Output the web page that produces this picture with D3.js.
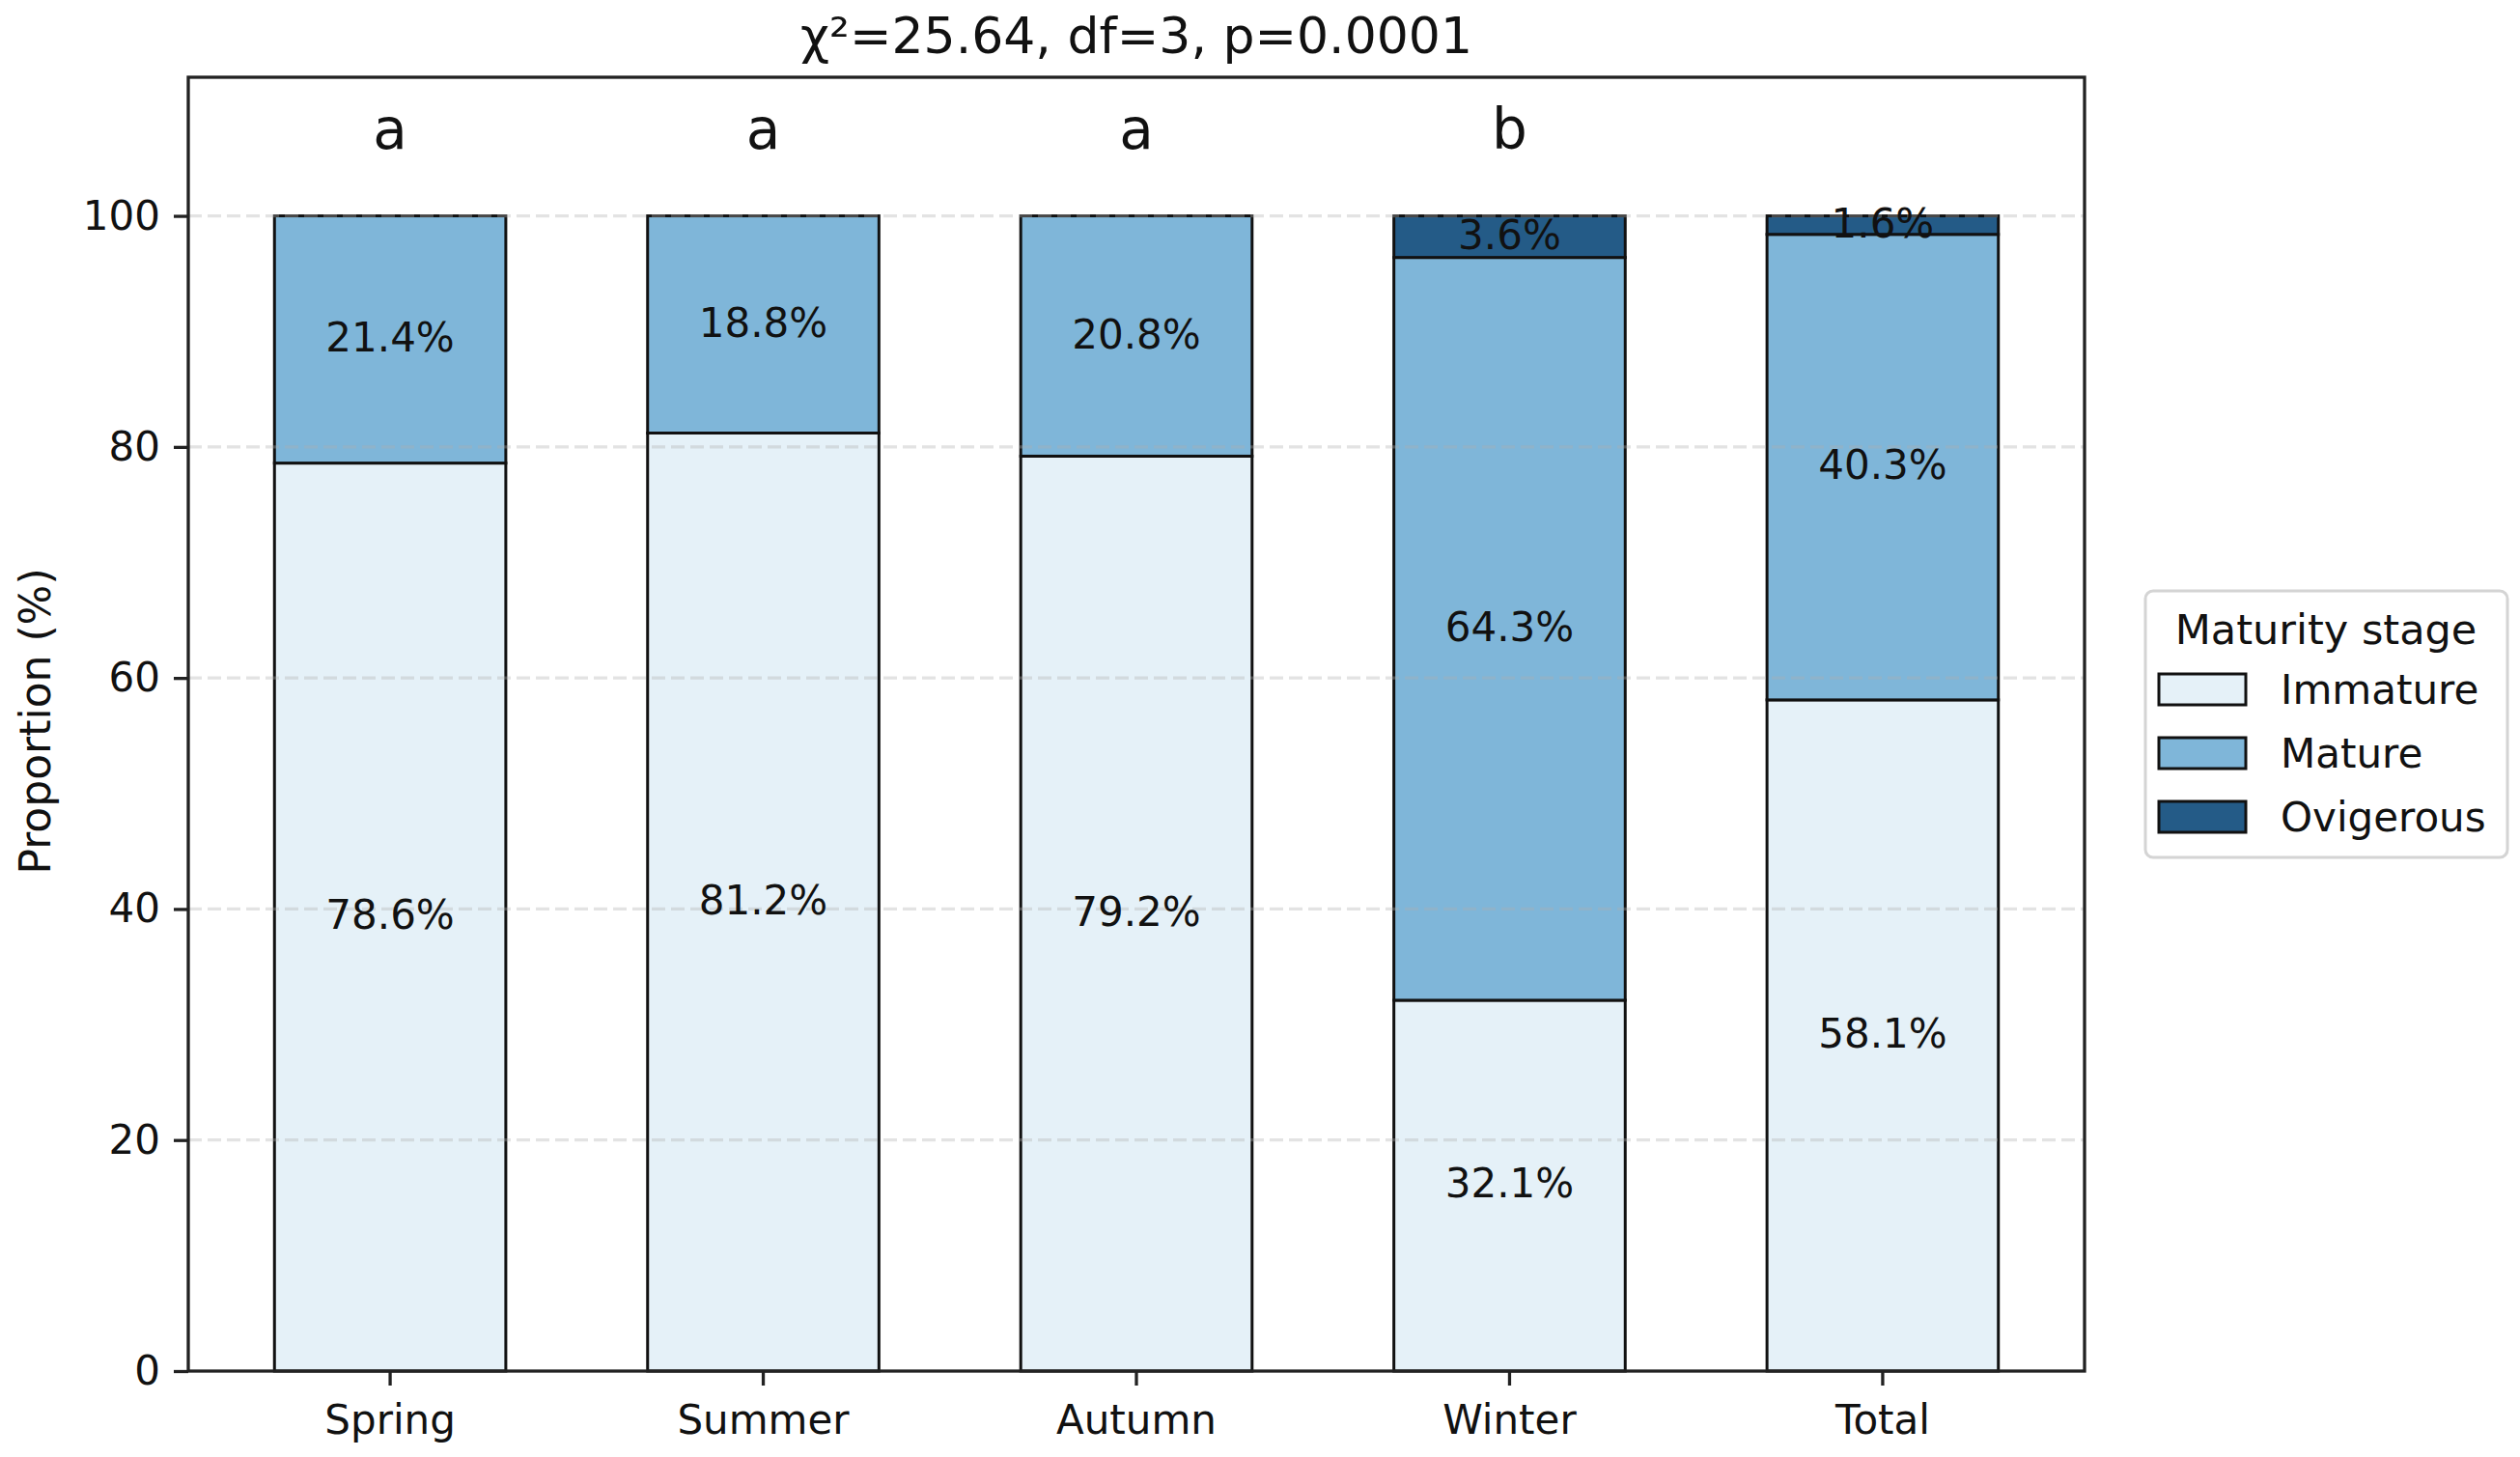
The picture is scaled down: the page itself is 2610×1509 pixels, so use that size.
<!DOCTYPE html>
<html>
<head>
<meta charset="utf-8">
<script src="https://cdn.jsdelivr.net/npm/d3@7"></script>
<style>
  body { margin: 0; background: #fff; }
  svg { display: block; font-family: "DejaVu Sans", sans-serif; }
</style>
</head>
<body>
<svg width="2610" height="1509"></svg>
<script>
// chart data
const seasons = ["Spring", "Summer", "Autumn", "Winter", "Total"];
const stages = ["Immature", "Mature", "Ovigerous"];
const immature = [78.6, 81.2, 79.2, 32.1, 58.1];
const mature = [21.4, 18.8, 20.8, 64.3, 40.3];
const ovigerous = [0, 0, 0, 3.6, 1.6];
const groupLetters = ["a", "a", "a", "b", ""];
const yTicks = [0, 20, 40, 60, 80, 100];
const titleText = "χ²=25.64, df=3, p=0.0001";

window.addEventListener('load', () => {
    draw()
})

function draw() {
    const svg = d3.select("svg");
    const margin = {top: 80, right: 451, bottom: 89, left: 195};
    const width = 2610 - margin.left - margin.right;
    const height = 1509 - margin.top - margin.bottom;
    const g = svg.append("g").attr("transform", "translate(" + margin.left + "," + margin.top + ")");

    const colors = d3.scaleOrdinal()
        .domain(stages)
        .range(["#e5f1f8", "#7fb6d9", "#245b87"]);

    const rows = seasons.map((s, i) => ({
        season: s,
        Immature: immature[i],
        Mature: mature[i],
        Ovigerous: ovigerous[i]
    }));
    const series = d3.stack().keys(stages)(rows);

    const x = d3.scaleBand()
        .domain(seasons)
        .range([0, width])
        .paddingInner(0.38)
        .paddingOuter(0.231);
    const y = d3.scaleLinear().domain([0, 112]).range([height, 0]);

    // bars
    series.forEach(s => {
        g.append("g").selectAll("rect")
            .data(s.filter(d => d[1] - d[0] > 0))
            .enter().append("rect")
            .attr("x", d => x(d.data.season))
            .attr("width", x.bandwidth())
            .attr("y", d => y(d[1]))
            .attr("height", d => y(d[0]) - y(d[1]))
            .attr("fill", colors(s.key))
            .attr("stroke", "#111")
            .attr("stroke-width", 3);
    });

    // grid (sits above the bars, faint)
    g.append("g").selectAll("line")
        .data(yTicks.filter(t => t > 0))
        .enter().append("line")
        .attr("x1", 0).attr("x2", width)
        .attr("y1", d => y(d)).attr("y2", d => y(d))
        .attr("stroke", "#b0b0b0")
        .attr("stroke-opacity", 0.35)
        .attr("stroke-width", 3.3)
        .attr("stroke-dasharray", "14,6");

    // segment labels
    series.forEach(s => {
        g.append("g").selectAll("text")
            .data(s.filter(d => d[1] - d[0] > 0))
            .enter().append("text")
            .attr("x", d => x(d.data.season) + x.bandwidth() / 2)
            .attr("y", d => y((d[0] + d[1]) / 2) - 2)
            .attr("text-anchor", "middle")
            .attr("dominant-baseline", "central")
            .attr("font-size", 42)
            .attr("fill", "#111")
            .text(d => d3.format(".1f")(d[1] - d[0]) + "%");
    });

    // significance letters
    g.append("g").selectAll("text")
        .data(seasons.map((s, i) => ({season: s, letter: groupLetters[i]})).filter(d => d.letter))
        .enter().append("text")
        .attr("x", d => x(d.season) + x.bandwidth() / 2)
        .attr("y", y(105.8))
        .attr("text-anchor", "middle")
        .attr("font-size", 58)
        .attr("fill", "#111")
        .text(d => d.letter);

    // axes
    const xAxis = g.append("g")
        .attr("transform", "translate(0," + height + ")")
        .call(d3.axisBottom(x).tickSize(15).tickPadding(14));
    const yAxis = g.append("g")
        .call(d3.axisLeft(y).tickValues(yTicks).tickSize(15).tickPadding(14));
    [xAxis, yAxis].forEach(a => {
        a.select(".domain").remove();
        a.selectAll(".tick line").attr("stroke", "#222").attr("stroke-width", 3.3);
        a.selectAll(".tick text").attr("font-size", 42).attr("fill", "#111")
            .attr("font-family", "DejaVu Sans, sans-serif");
    });
    xAxis.selectAll(".tick text").attr("dy", "0.85em");

    // frame
    g.append("rect")
        .attr("width", width).attr("height", height)
        .attr("fill", "none")
        .attr("stroke", "#222")
        .attr("stroke-width", 3.3);

    // title and y label
    svg.append("text")
        .attr("x", margin.left + width / 2)
        .attr("y", 55)
        .attr("text-anchor", "middle")
        .attr("font-size", 52)
        .attr("fill", "#111")
        .text(titleText);

    svg.append("text")
        .attr("transform", "translate(52," + (margin.top + height / 2 - 3) + ") rotate(-90)")
        .attr("text-anchor", "middle")
        .attr("font-size", 44)
        .attr("fill", "#111")
        .text("Proportion (%)");

    // legend
    const lg = svg.append("g").attr("transform", "translate(2222,612)");
    lg.append("rect")
        .attr("width", 375).attr("height", 276)
        .attr("rx", 8)
        .attr("fill", "#fff")
        .attr("stroke", "#d4d4d4")
        .attr("stroke-width", 3);
    lg.append("text")
        .attr("x", 187).attr("y", 40)
        .attr("text-anchor", "middle")
        .attr("dominant-baseline", "central")
        .attr("font-size", 43)
        .attr("fill", "#111")
        .text("Maturity stage");
    const items = lg.selectAll(".item")
        .data(stages)
        .enter().append("g")
        .attr("class", "item")
        .attr("transform", (d, i) => "translate(14," + (86 + i * 66) + ")");
    items.append("rect")
        .attr("width", 90).attr("height", 32)
        .attr("fill", d => colors(d))
        .attr("stroke", "#111")
        .attr("stroke-width", 3);
    items.append("text")
        .attr("x", 126).attr("y", 16)
        .attr("dominant-baseline", "central")
        .attr("font-size", 42)
        .attr("fill", "#111")
        .text(d => d);
}
</script>
</body>
</html>
